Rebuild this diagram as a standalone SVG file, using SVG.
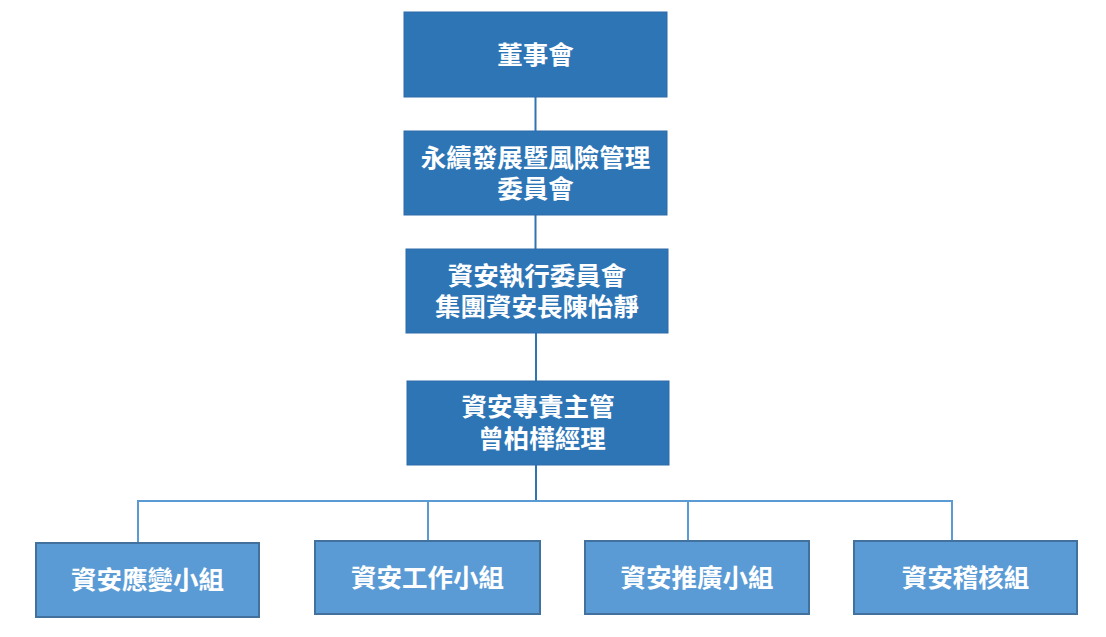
<svg xmlns="http://www.w3.org/2000/svg" width="1106" height="637" viewBox="0 0 1106 637">
<style>
.dark{fill:#2E75B6;stroke:#2E6AA8;stroke-width:1}
.light{fill:#5B9BD5;stroke:#41719C;stroke-width:2}
.t{font-family:"Liberation Sans","Noto Sans CJK TC","Noto Sans CJK SC",sans-serif;font-weight:bold;font-size:25.5px;fill:#FFFFFF;text-anchor:middle;dominant-baseline:central}
.c1{stroke:#2E75B6;stroke-width:2;fill:none}
.c2{stroke:#5B9BD5;stroke-width:2;fill:none}
</style>
<rect width="1106" height="637" fill="#FFFFFF"/>
<g id="connectors">
<line class="c1" x1="535.5" y1="97" x2="535.5" y2="131"/>
<line class="c1" x1="535.5" y1="215" x2="535.5" y2="249"/>
<line class="c1" x1="536" y1="333" x2="536" y2="381"/>
<line class="c1" x1="536" y1="465" x2="536" y2="501"/>
<polyline class="c2" points="138,543 138,501 952,501 952,541"/>
<line class="c2" x1="428" y1="501" x2="428" y2="541"/>
<line class="c2" x1="688" y1="501" x2="688" y2="541"/>
</g>
<g id="board">
<rect class="dark" x="404" y="12" width="263" height="85"/>
<text class="t" x="535.5" y="54.5">董事會</text>
</g>
<g id="sustainability">
<rect class="dark" x="404" y="131" width="263" height="84"/>
<text class="t" x="535.5" y="158">永續發展暨風險管理<tspan x="535.5" dy="31">委員會</tspan></text>
</g>
<g id="exec">
<rect class="dark" x="406" y="249" width="262" height="84"/>
<text class="t" x="537" y="276">資安執行委員會<tspan x="537" dy="31">集團資安長陳怡靜</tspan></text>
</g>
<g id="manager">
<rect class="dark" x="407" y="381" width="262" height="84"/>
<text class="t" x="538" y="407">資安專責主管<tspan x="542" dy="32">曾柏樺經理</tspan></text>
</g>
<g id="response">
<rect class="light" x="36" y="543" width="223" height="74"/>
<text class="t" x="147.5" y="580">資安應變小組</text>
</g>
<g id="work">
<rect class="light" x="315" y="541" width="225" height="73"/>
<text class="t" x="427.5" y="577.5">資安工作小組</text>
</g>
<g id="promote">
<rect class="light" x="585" y="541" width="224" height="73"/>
<text class="t" x="697" y="577.5">資安推廣小組</text>
</g>
<g id="audit">
<rect class="light" x="854" y="541" width="223" height="73"/>
<text class="t" x="965.5" y="577.5">資安稽核組</text>
</g>
</svg>
